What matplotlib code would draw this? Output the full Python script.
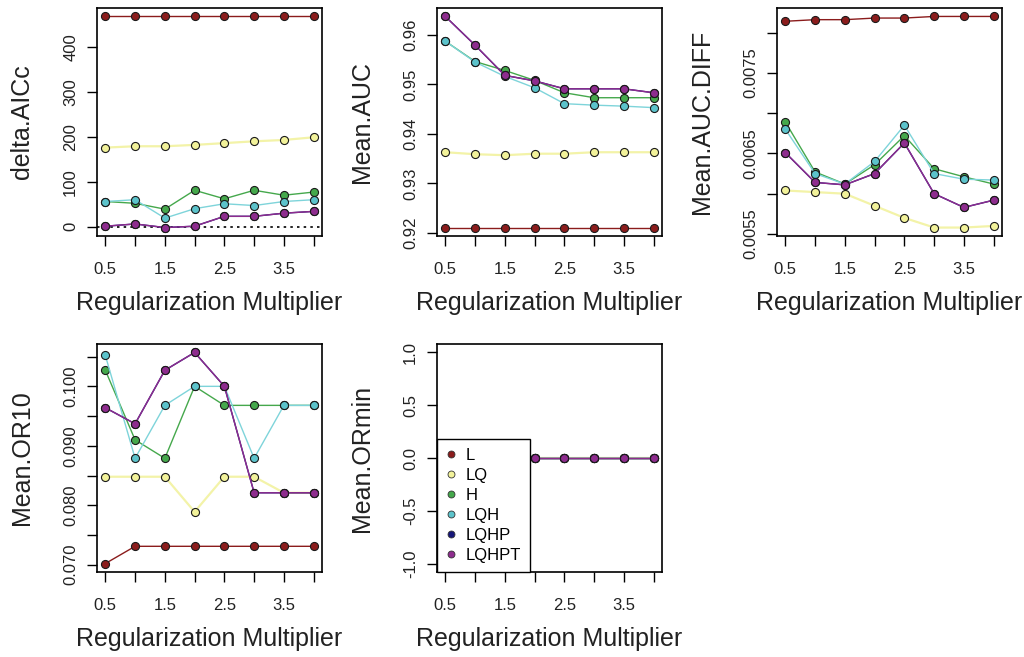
import matplotlib
matplotlib.use("Agg")
import matplotlib.pyplot as plt
from matplotlib.lines import Line2D

plt.rcParams["font.family"] = ["Liberation Sans", "DejaVu Sans"]

# regularization multipliers on the x axis
RM = [0.5, 1.0, 1.5, 2.0, 2.5, 3.0, 3.5, 4.0]
RM_TICKS = [0.5, 1.0, 1.5, 2.0, 2.5, 3.0, 3.5, 4.0]
RM_LABELS = ["0.5", "", "1.5", "", "2.5", "", "3.5", ""]

FEATURES = ["L", "LQ", "H", "LQH", "LQHP", "LQHPT"]
COLORS = ["#8B1C1C", "#F2F29A", "#45A84C", "#5CC3CB", "#17177A", "#8E2C8E"]
LINE_COLORS = ["#8B1C1C", "#F3F3A8", "#45A84C", "#7ED4DA", "#17177A", "#8E2C8E"]

# delta.AICc per feature class
AICC_L = [468, 468, 468, 468, 468, 468, 468, 468]
AICC_LQ = [176, 179, 179, 182, 186, 190, 193, 199]
AICC_H = [56, 52, 39, 81, 62, 81, 70, 77]
AICC_LQH = [56, 60, 19, 40, 51, 47, 56, 60]
AICC_LQHP = [1, 6, -2, 1, 23, 23, 30, 34]
AICC_LQHPT = [1, 6, -2, 1, 23, 23, 30, 34]

# Mean.AUC
AUC_L = [0.9211, 0.9211, 0.9211, 0.9211, 0.9211, 0.9211, 0.9211, 0.9211]
AUC_LQ = [0.9363, 0.9359, 0.9357, 0.9360, 0.9360, 0.9363, 0.9363, 0.9363]
AUC_H = [0.9587, 0.9546, 0.9528, 0.9508, 0.9483, 0.9473, 0.9473, 0.9473]
AUC_LQH = [0.9587, 0.9545, 0.9516, 0.9493, 0.9461, 0.9458, 0.9456, 0.9453]
AUC_LQHP = [0.9637, 0.9579, 0.9518, 0.9507, 0.9491, 0.9491, 0.9491, 0.9483]
AUC_LQHPT = [0.9637, 0.9579, 0.9518, 0.9507, 0.9491, 0.9491, 0.9491, 0.9483]

# Mean.AUC.DIFF
DIFF_L = [0.00814, 0.00816, 0.00816, 0.00818, 0.00818, 0.00820, 0.00820, 0.00820]
DIFF_LQ = [0.00604, 0.00602, 0.00600, 0.00585, 0.00570, 0.00558, 0.00558, 0.00560]
DIFF_H = [0.00689, 0.00627, 0.00612, 0.00636, 0.00672, 0.00631, 0.00621, 0.00612]
DIFF_LQH = [0.00680, 0.00625, 0.00612, 0.00640, 0.00685, 0.00625, 0.00618, 0.00617]
DIFF_LQHP = [0.00651, 0.00614, 0.00611, 0.00625, 0.00663, 0.00600, 0.00583, 0.00592]
DIFF_LQHPT = [0.00651, 0.00614, 0.00611, 0.00625, 0.00663, 0.00600, 0.00583, 0.00592]

# Mean.OR10
OR10_L = [0.0702, 0.0731, 0.0731, 0.0731, 0.0731, 0.0731, 0.0731, 0.0731]
OR10_LQ = [0.0848, 0.0848, 0.0848, 0.0789, 0.0848, 0.0848, 0.0821, 0.0821]
OR10_H = [0.1027, 0.0910, 0.0879, 0.1000, 0.0968, 0.0968, 0.0968, 0.0968]
OR10_LQH = [0.1052, 0.0879, 0.0968, 0.1000, 0.1000, 0.0879, 0.0968, 0.0968]
OR10_LQHP = [0.0964, 0.0937, 0.1027, 0.1057, 0.1000, 0.0821, 0.0821, 0.0821]
OR10_LQHPT = [0.0964, 0.0937, 0.1027, 0.1057, 0.1000, 0.0821, 0.0821, 0.0821]

# Mean.ORmin
ORMIN_L = [0, 0, 0, 0, 0, 0, 0, 0]
ORMIN_LQ = [0, 0, 0, 0, 0, 0, 0, 0]
ORMIN_H = [0, 0, 0, 0, 0, 0, 0, 0]
ORMIN_LQH = [0, 0, 0, 0, 0, 0, 0, 0]
ORMIN_LQHP = [0, 0, 0, 0, 0, 0, 0, 0]
ORMIN_LQHPT = [0, 0, 0, 0, 0, 0, 0, 0]

PANELS = [
    ("delta.AICc", [AICC_L, AICC_LQ, AICC_H, AICC_LQH, AICC_LQHP, AICC_LQHPT],
     [0, 100, 200, 300, 400], ["0", "100", "200", "300", "400"]),
    ("Mean.AUC", [AUC_L, AUC_LQ, AUC_H, AUC_LQH, AUC_LQHP, AUC_LQHPT],
     [0.92, 0.93, 0.94, 0.95, 0.96], ["0.92", "0.93", "0.94", "0.95", "0.96"]),
    ("Mean.AUC.DIFF", [DIFF_L, DIFF_LQ, DIFF_H, DIFF_LQH, DIFF_LQHP, DIFF_LQHPT],
     [0.0055, 0.0060, 0.0065, 0.0070, 0.0075, 0.0080],
     ["0.0055", "", "0.0065", "", "0.0075", ""]),
    ("Mean.OR10", [OR10_L, OR10_LQ, OR10_H, OR10_LQH, OR10_LQHP, OR10_LQHPT],
     [0.070, 0.075, 0.080, 0.085, 0.090, 0.095, 0.100, 0.105],
     ["0.070", "", "0.080", "", "0.090", "", "0.100", ""]),
    ("Mean.ORmin", [ORMIN_L, ORMIN_LQ, ORMIN_H, ORMIN_LQH, ORMIN_LQHP, ORMIN_LQHPT],
     [-1.0, -0.5, 0.0, 0.5, 1.0], ["-1.0", "-0.5", "0.0", "0.5", "1.0"]),
]

# axes boxes in figure pixels: left, top, right, bottom
BOXES = [
    (97, 8, 322, 236), (437, 8, 662, 236), (777, 8, 1002, 236),
    (97, 344, 322, 572), (437, 344, 662, 572),
]

W, H = 1024, 657
fig = plt.figure(figsize=(W / 100, H / 100), dpi=100, facecolor="white")


def r_range(lo, hi):
    # R-style 4% padding around the data range
    if lo == hi:
        lo, hi = lo - 1, hi + 1
    pad = (hi - lo) * 0.04
    return lo - pad, hi + pad


for i, (name, series, yticks, ylabels) in enumerate(PANELS):
    l, t, r, b = BOXES[i]
    ax = fig.add_axes([l / W, (H - b) / H, (r - l) / W, (b - t) / H])

    for k, vals in enumerate(series):
        ax.plot(RM, vals, color=LINE_COLORS[k], lw=1.6 if k == 1 else 1.0,
                zorder=2 + k)
        ax.plot(RM, vals, ls="none", marker="o", ms=5.8, mfc=COLORS[k],
                mec="#1a1a1a", mew=0.8, zorder=2.5 + k)

    allv = [v for s in series for v in s]
    ax.set_ylim(*r_range(min(allv), max(allv)))
    ax.set_xlim(*r_range(0.5, 4.0))

    if name == "delta.AICc":
        ax.axhline(0, color="black", lw=1.2, ls=(0, (1.5, 2.5)), zorder=1.5)

    ax.set_xticks(RM_TICKS)
    ax.set_xticklabels(RM_LABELS)
    ax.set_yticks(yticks)
    ax.set_yticklabels(ylabels, rotation=90, va="center")

    ax.tick_params(axis="both", direction="out", length=7.5, width=1.0,
                   color="black", labelsize=12, labelcolor="#222222")
    ax.tick_params(axis="x", pad=11)
    ax.tick_params(axis="y", pad=6)
    for sp in ax.spines.values():
        sp.set_linewidth(1.2)
        sp.set_color("black")

    ax.set_xlabel("Regularization Multiplier", fontsize=18, color="#222222",
                  labelpad=10)
    ax.set_ylabel(name, fontsize=18, color="#222222", labelpad=21)

    if name == "Mean.ORmin":
        handles = [Line2D([], [], ls="none", marker="o", ms=5.0, mfc=c,
                          mec="#333333", mew=0.6) for c in COLORS]
        leg = ax.legend(handles, FEATURES, loc="lower left", borderaxespad=0,
                        fontsize=12, handlelength=0.6, handletextpad=0.55,
                        labelspacing=0.3, borderpad=0.55, fancybox=False,
                        framealpha=1, edgecolor="black", facecolor="white")
        leg.get_frame().set_linewidth(1.0)
        leg.set_zorder(20)

fig.savefig("out.png", dpi=100, facecolor="white")
